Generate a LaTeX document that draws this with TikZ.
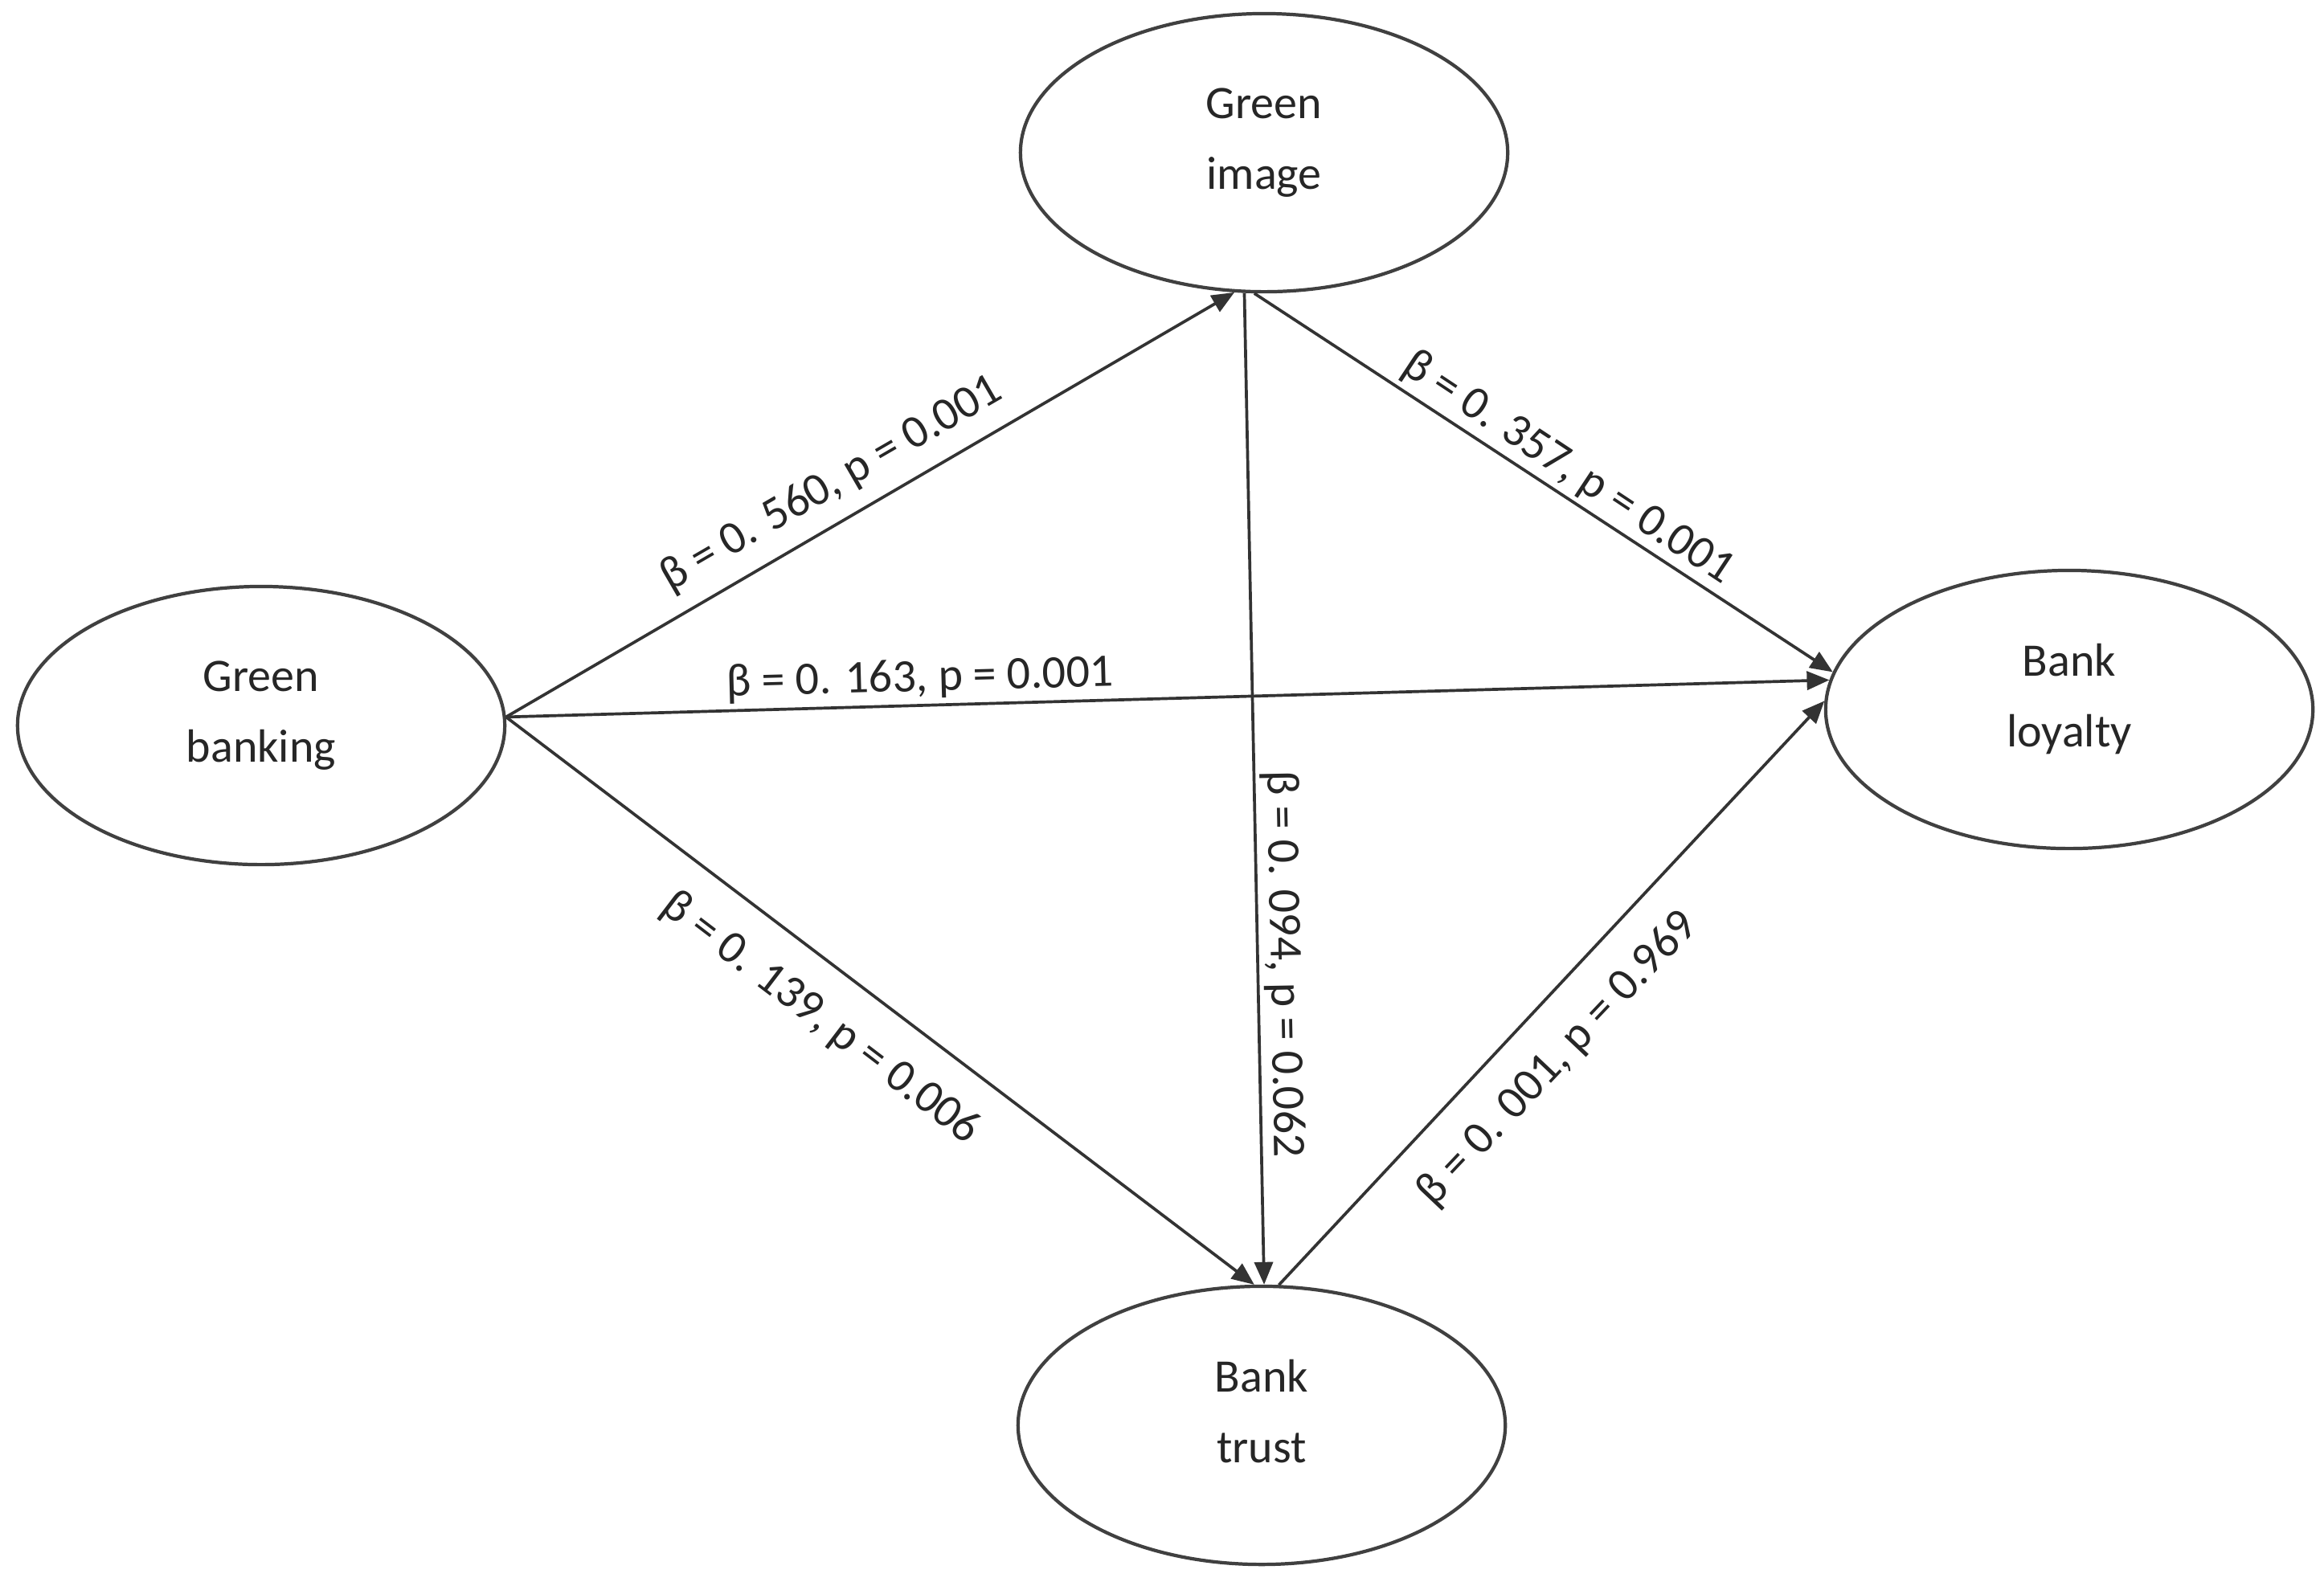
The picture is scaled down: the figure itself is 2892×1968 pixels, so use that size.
\documentclass[tikz,border=0pt]{standalone}
\usepackage{fontspec}
\setmainfont{Carlito}
\usetikzlibrary{arrows.meta,shapes.geometric}
\begin{document}
\begin{tikzpicture}[x=0.01cm,y=-0.01cm,
  construct/.style={draw=black!75, line width=1.2pt, ellipse,
    minimum width=6.06cm, minimum height=3.46cm, inner sep=0pt,
    align=center, text=black!85, font=\fontsize{16.5}{25}\selectfont,
    execute at end node={\rule[-10pt]{0pt}{0pt}}},
  conn/.style={draw=black!80, line width=1.05pt,
    -{Triangle[length=0.28cm,width=0.23cm]}},
  lbl/.style={inner sep=0pt, text height=10.4pt, text depth=0pt,
    anchor=center, text=black!85, font=\fontsize{16.5}{25}\selectfont}]
\useasboundingbox (0,0) rectangle (2892,1968);
\node[construct] (gi) at (1573,190) {Green\\image};
\node[construct] (gb) at (325,903) {Green\\banking};
\node[construct] (bl) at (2575,883) {Bank\\loyalty};
\node[construct] (bt) at (1570,1774) {Bank\\trust};
\draw[conn] (gb.2) -- (gi.-102.2);
\draw[conn] (gb.2) -- (bl.173.3);
\draw[conn] (gb.2) -- (bt.93.9);
\draw[conn] (gi.-94.3) -- (bl.171.4);
\draw[conn] (gi.-98.3) -- (bt.89.3);
\draw[conn] (bt.83.4) -- (bl.178.1);
\node[lbl, rotate=30.1] (l1) at (1033,600) {β = 0. 560, p = 0.001};
\node[lbl, rotate=-33.5] (l2) at (1953,580) {β = 0. 357, p = 0.001};
\node[lbl, rotate=1.5] (l3) at (1145,842) {β = 0. 163, p = 0.001};
\node[lbl, rotate=-37.3] (l4) at (1023,1265) {β = 0. 139, p = 0.006};
\node[lbl, rotate=-88.9] (l5) at (1600,1200) {β = 0. 094, p = 0.062};
\node[lbl, rotate=46.6] (l6) at (1936,1316) {β = 0. 001, p = 0.969};
\end{tikzpicture}
\end{document}
